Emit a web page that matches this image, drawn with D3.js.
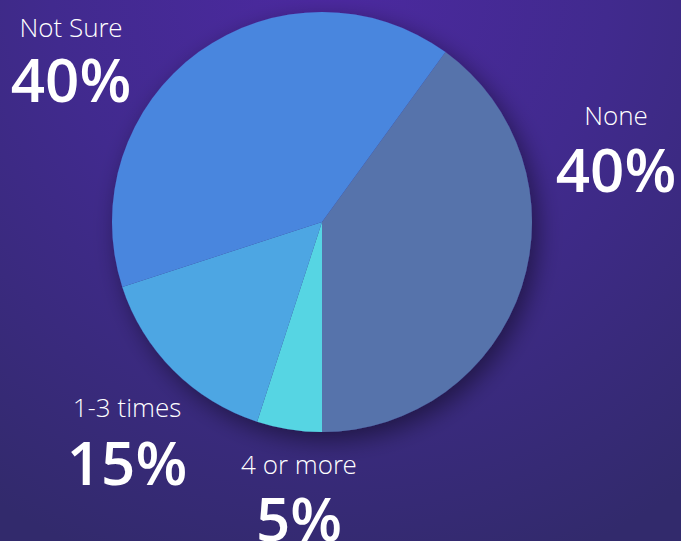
<!DOCTYPE html>
<html>
<head>
<meta charset="utf-8">
<script src="https://cdn.jsdelivr.net/npm/d3@7"></script>
<style>
  html, body { margin: 0; padding: 0; background: #3a2a80; }
  svg { display: block; }
</style>
</head>
<body>
<svg id="chart" width="681" height="541"></svg>
<script>
// Survey answers, in drawing order (clockwise from the top-right boundary)
const categories = ["None", "4 or more", "1-3 times", "Not Sure"];
const values = [40, 5, 15, 40];
const valueLabels = ["40%", "5%", "15%", "40%"];
const sliceColors = ["#5673ab", "#57d5e3", "#4da6e3", "#4a86de"];

// Where each label block sits (centre x, baseline of name, baseline of value)
const labelLayout = {
  "None":      { x: 616, y1: 125, y2: 192 },
  "4 or more": { x: 299, y1: 474, y2: 541 },
  "1-3 times": { x: 127, y1: 417, y2: 485 },
  "Not Sure":  { x: 71,  y1: 37,  y2: 102 }
};

const W = 681, H = 541;
const cx = 322, cy = 222, R = 210;

const svg = d3.select("#chart");
const defs = svg.append("defs");

// Background: purple glow near the top, deepening toward the bottom
const bg = defs.append("radialGradient")
  .attr("id", "bg").attr("gradientUnits", "userSpaceOnUse")
  .attr("cx", 330).attr("cy", -20).attr("r", 620);
bg.append("stop").attr("offset", 0).attr("stop-color", "#4c29a0");
bg.append("stop").attr("offset", 0.45).attr("stop-color", "#412a8e");
bg.append("stop").attr("offset", 1).attr("stop-color", "#322a6c");
svg.append("rect").attr("width", W).attr("height", H).attr("fill", "url(#bg)");

// Soft shadow beneath the pie
const sh = defs.append("filter").attr("id", "shadow")
  .attr("x", "-30%").attr("y", "-30%").attr("width", "160%").attr("height", "160%");
sh.append("feGaussianBlur").attr("in", "SourceAlpha").attr("stdDeviation", 12).attr("result", "b");
sh.append("feOffset").attr("in", "b").attr("dx", 6).attr("dy", 8).attr("result", "o");
sh.append("feComponentTransfer").attr("in", "o").attr("result", "s")
  .append("feFuncA").attr("type", "linear").attr("slope", 0.45);
const m = sh.append("feMerge");
m.append("feMergeNode").attr("in", "s");
m.append("feMergeNode").attr("in", "SourceGraphic");

const total = d3.sum(values);
const start = Math.PI - 2 * Math.PI * values[0] / total;
const pie = d3.pie().sort(null).value(d => d.v)
  .startAngle(start).endAngle(start + 2 * Math.PI);
const arc = d3.arc().innerRadius(0).outerRadius(R);

const data = categories.map((c, i) => ({ c, v: values[i], color: sliceColors[i], label: valueLabels[i] }));

const g = svg.append("g").attr("transform", `translate(${cx},${cy})`).attr("filter", "url(#shadow)");
g.selectAll("path").data(pie(data)).join("path")
  .attr("d", arc)
  .attr("fill", d => d.data.color);

// Labels: light category name above a heavy percentage
const lg = svg.append("g").attr("fill", "#ffffff").attr("text-anchor", "middle");
data.forEach(d => {
  const p = labelLayout[d.c];
  lg.append("text")
    .attr("x", p.x).attr("y", p.y1)
    .attr("font-family", "'Open Sans Light', 'Open Sans', sans-serif")
    .attr("font-weight", 300)
    .attr("font-size", 26)
    .text(d.c);
  lg.append("text")
    .attr("x", p.x).attr("y", p.y2)
    .attr("font-family", "'Open Sans', sans-serif")
    .attr("font-weight", 600)
    .attr("font-size", 60)
    .text(d.label);
});
</script>
</body>
</html>
